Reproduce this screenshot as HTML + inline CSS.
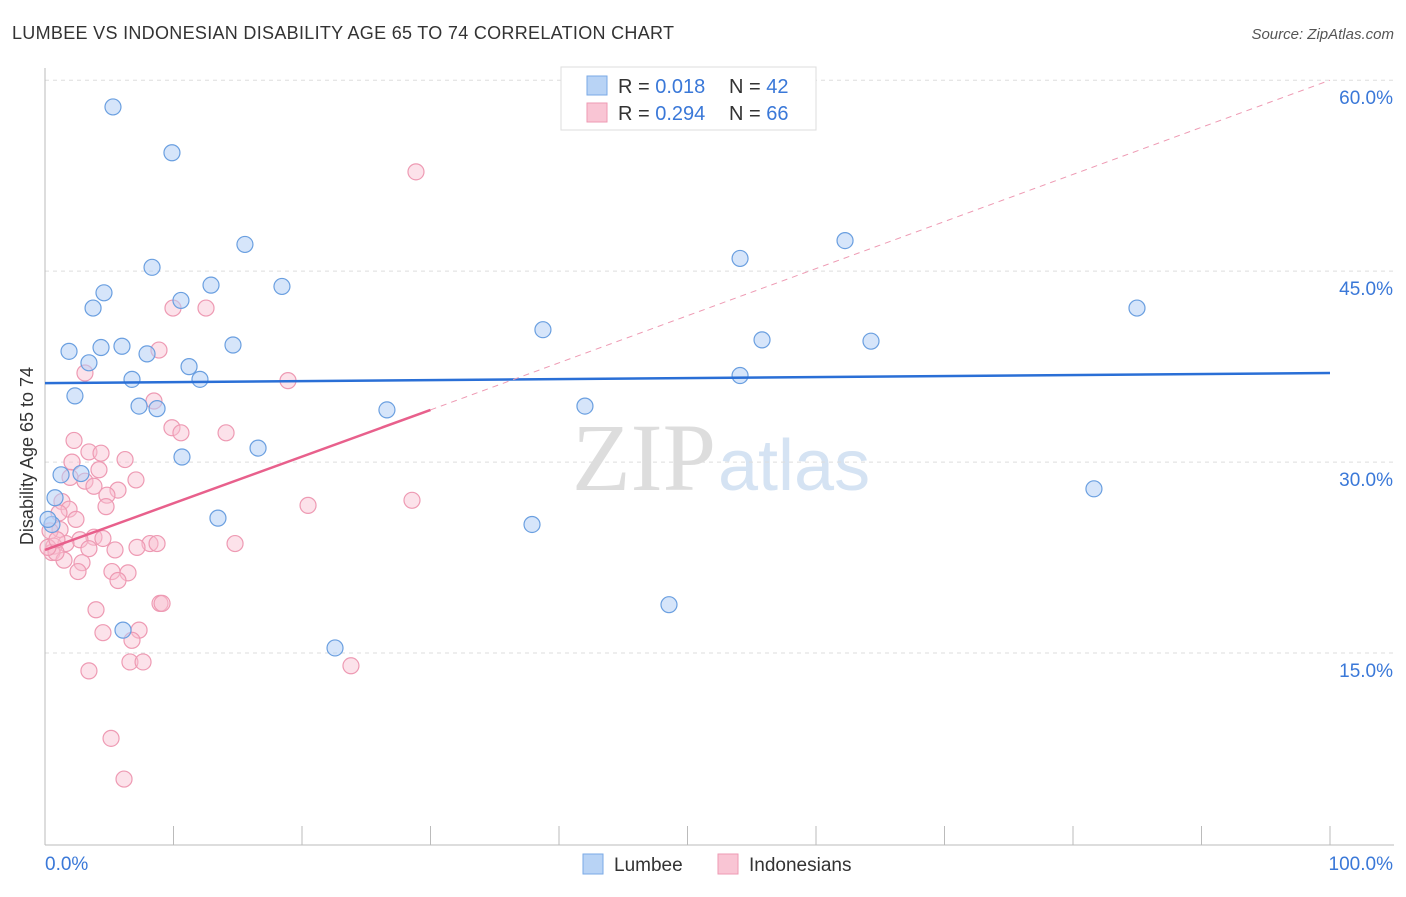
<!DOCTYPE html>
<html><head><meta charset="utf-8"><style>
body{margin:0;background:#fff;font-family:"Liberation Sans",sans-serif}
</style></head><body>
<svg width="1406" height="892" xmlns="http://www.w3.org/2000/svg">
<text x="12" y="39" font-size="18" fill="#333" textLength="662">LUMBEE VS INDONESIAN DISABILITY AGE 65 TO 74 CORRELATION CHART</text>
<text x="1394" y="39" font-size="15" fill="#555" font-style="italic" text-anchor="end">Source: ZipAtlas.com</text>
<text x="716" y="490" font-size="96" font-family="Liberation Serif" fill="#ddd" text-anchor="end">ZIP</text>
<text x="718" y="490" font-size="72" fill="#d5e3f3">atlas</text>
<g id="grid"></g>
<g id="axes"></g>
<g id="marks"></g>
<g>
<rect x="561" y="67" width="255" height="63" fill="#fff" stroke="#ddd"/>
<rect x="587" y="76" width="20" height="19" fill="#b8d3f5" stroke="#7aa9e6"/>
<text x="618" y="93" font-size="20" fill="#333">R = <tspan fill="#3a78d8">0.018</tspan></text>
<text x="729" y="93" font-size="20" fill="#333">N = <tspan fill="#3a78d8">42</tspan></text>
<rect x="587" y="103" width="20" height="19" fill="#f9c5d4" stroke="#ee9ab3"/>
<text x="618" y="120" font-size="20" fill="#333">R = <tspan fill="#3a78d8">0.294</tspan></text>
<text x="729" y="120" font-size="20" fill="#333">N = <tspan fill="#3a78d8">66</tspan></text>
</g>
<g>
<rect x="583" y="854" width="20" height="20" fill="#b8d3f5" stroke="#7aa9e6"/>
<text x="614" y="871" font-size="19" fill="#333">Lumbee</text>
<rect x="718" y="854" width="20" height="20" fill="#f9c5d4" stroke="#ee9ab3"/>
<text x="749" y="871" font-size="19" fill="#333">Indonesians</text>
</g>
</svg>
<script>
const yTicks=[15,30,45,60];
const yTickLabels=["15.0%","30.0%","45.0%","60.0%"];
const xLabels=["0.0%","100.0%"];
const lumbeeX=[5.29,9.88,8.33,15.56,12.92,10.58,4.59,3.74,18.44,1.87,4.36,5.99,7.94,14.63,3.42,11.21,6.77,12.06,2.33,7.32,8.72,16.58,10.66,1.25,2.80,0.78,13.46,0.54,6.07,22.57,26.61,38.75,37.9,42.02,48.56,54.09,55.8,54.09,62.26,64.28,84.98,81.63,0.23];
const lumbeeY=[57.9,54.3,45.3,47.1,43.9,42.7,43.3,42.1,43.8,38.7,39.0,39.1,38.5,39.2,37.8,37.5,36.5,36.5,35.2,34.4,34.2,31.1,30.4,29.0,29.1,27.2,25.6,25.1,16.8,15.4,34.1,40.4,25.1,34.4,18.8,46.0,39.6,36.8,47.4,39.5,42.1,27.9,25.5];
const indoX=[28.87,9.96,12.53,8.87,18.91,3.11,8.48,9.88,10.58,14.09,2.26,3.42,4.36,6.23,2.10,4.2,1.95,3.11,3.81,5.68,7.08,4.82,1.32,4.75,1.87,1.09,2.41,20.47,28.56,1.17,0.39,3.81,2.72,1.63,4.51,8.17,8.72,14.79,7.16,0.70,3.42,5.45,0.54,1.48,2.88,5.21,6.46,2.57,5.68,3.97,8.95,9.11,4.51,7.32,6.77,6.61,7.63,3.42,23.81,5.14,6.15,0.86,0.23,0.93];
const indoY=[52.8,42.1,42.1,38.8,36.4,37.0,34.8,32.7,32.3,32.3,31.7,30.8,30.7,30.2,30.0,29.4,28.8,28.5,28.1,27.8,28.6,27.4,26.9,26.5,26.3,26.0,25.5,26.6,27.0,24.7,24.6,24.1,23.9,23.6,24.0,23.6,23.6,23.6,23.3,23.4,23.2,23.1,22.9,22.3,22.1,21.4,21.3,21.4,20.7,18.4,18.9,18.9,16.6,16.8,16.0,14.3,14.3,13.6,14.0,8.3,5.1,22.9,23.3,23.9];
const lumbeeTrend=[36.2,37.0];
const indoTrend=[23.1,34.1,60.0];
const trendX=[0,30,100];
const NS="http://www.w3.org/2000/svg";
const X=v=>45+v*12.85, Y=v=>844-v*12.73;
function mk(tag,attrs,parent){const e=document.createElementNS(NS,tag);for(const k in attrs)e.setAttribute(k,attrs[k]);document.getElementById(parent).appendChild(e);return e;}
yTicks.forEach((t,i)=>{
 const g=mk('line',{x1:45,x2:1394,y1:Y(t),y2:Y(t),stroke:'#ddd','stroke-dasharray':'4,4'},'grid');
 
 
 const l=mk('text',{x:1393,y:Y(t)+24,'font-size':19,fill:'#3a78d8','text-anchor':'end'},'axes');
 l.textContent=yTickLabels[i];
 
 
});
const ax=mk('line',{x1:45,x2:1394,y1:845,y2:845,stroke:'#bbb'},'axes');


const ay=mk('line',{x1:45,x2:45,y1:68,y2:845,stroke:'#bbb'},'axes');


for(let i=1;i<=10;i++){const t=mk('line',{x1:X(i*10),x2:X(i*10),y1:826,y2:845,stroke:'#bbb'},'axes');
 
 }
const xl0=mk('text',{x:45,y:870,'font-size':19,fill:'#3a78d8'},'axes');xl0.textContent=xLabels[0];


const xl1=mk('text',{x:1393,y:870,'font-size':19,fill:'#3a78d8','text-anchor':'end'},'axes');xl1.textContent=xLabels[1];


const yt=mk('text',{x:0,y:0,'font-size':18,fill:'#333','text-anchor':'middle',transform:'translate(33,456) rotate(-90)'},'axes');yt.textContent='Disability Age 65 to 74';


indoX.forEach((v,i)=>{const c=mk('circle',{cx:X(v),cy:Y(indoY[i]),r:8,fill:'rgba(248,190,208,0.45)',stroke:'#ee9ab3','stroke-width':1.2},'marks');
 
 });
lumbeeX.forEach((v,i)=>{const c=mk('circle',{cx:X(v),cy:Y(lumbeeY[i]),r:8,fill:'rgba(180,208,245,0.55)',stroke:'#6a9fe0','stroke-width':1.2},'marks');
 
 });
const bl=mk('line',{x1:X(0),x2:X(100),y1:Y(lumbeeTrend[0]),y2:Y(lumbeeTrend[1]),stroke:'#2a6fd6','stroke-width':2.5},'marks');


const pd=mk('line',{x1:X(trendX[1]),x2:X(trendX[2]),y1:Y(indoTrend[1]),y2:Y(indoTrend[2]),stroke:'#ee9ab3','stroke-width':1,'stroke-dasharray':'6,5'},'marks');


const pl=mk('line',{x1:X(trendX[0]),x2:X(trendX[1]),y1:Y(indoTrend[0]),y2:Y(indoTrend[1]),stroke:'#e8608c','stroke-width':2.5},'marks');


</script>
</body></html>
